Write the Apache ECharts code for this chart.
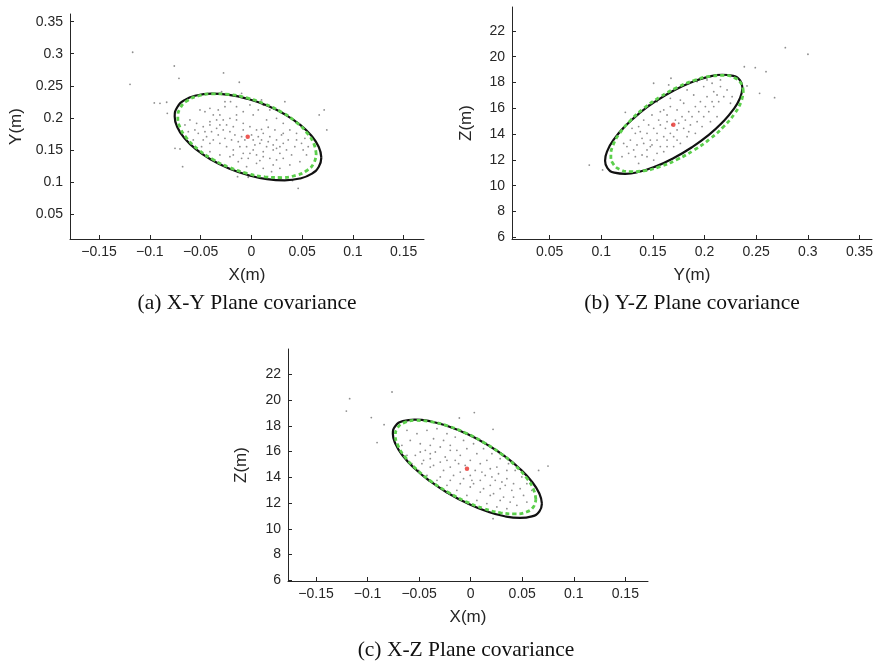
<!DOCTYPE html>
<html><head><meta charset="utf-8">
<script src="https://cdn.jsdelivr.net/npm/echarts@6/dist/echarts.min.js"></script>
<style>html,body{margin:0;padding:0;background:#fff}#c{width:877px;height:661px}</style>
</head><body><div id="c"></div>
<script>
// ---------- tick labels ----------
const xTicksXY = [-0.15, -0.1, -0.05, 0, 0.05, 0.1, 0.15];
const yTicksXY = [0.05, 0.1, 0.15, 0.2, 0.25, 0.3, 0.35];
const yTicksYZ = [0.05, 0.1, 0.15, 0.2, 0.25, 0.3, 0.35];
const zTicksYZ = [6, 8, 10, 12, 14, 16, 18, 20, 22];
const xTicksXZ = [-0.15, -0.1, -0.05, 0, 0.05, 0.1, 0.15];
const zTicksXZ = [6, 8, 10, 12, 14, 16, 18, 20, 22];

// ---------- axis ranges ----------
const rangeXY = { x: [-0.1786, 0.170], y: [0.011, 0.362] };
const rangeYZ = { x: [0.0136, 0.3621], y: [5.87, 23.85] };
const rangeXZ = { x: [-0.1772, 0.1720], y: [5.95, 23.97] };

// ---------- (a) X-Y plane ----------
const meanXY = [[-0.0036, 0.1706]];
const ellipseXY = [[0.0689,0.1380],[0.0664,0.1544],[0.0592,0.1720],[0.0478,0.1894],[0.0328,0.2055],[0.0154,0.2192],[-0.0033,0.2295],[-0.0220,0.2358],[-0.0394,0.2377],[-0.0544,0.2349],[-0.0658,0.2277],[-0.0730,0.2165],[-0.0755,0.2022],[-0.0730,0.1858],[-0.0658,0.1682],[-0.0544,0.1508],[-0.0394,0.1347],[-0.0220,0.1210],[-0.0033,0.1107],[0.0154,0.1044],[0.0328,0.1025],[0.0478,0.1053],[0.0592,0.1125],[0.0664,0.1237]];
const ellipseXYgreen = [[0.0638,0.1435],[0.0615,0.1597],[0.0547,0.1767],[0.0439,0.1935],[0.0298,0.2088],[0.0133,0.2216],[-0.0043,0.2310],[-0.0219,0.2364],[-0.0384,0.2375],[-0.0525,0.2341],[-0.0633,0.2265],[-0.0701,0.2151],[-0.0724,0.2009],[-0.0701,0.1847],[-0.0633,0.1677],[-0.0525,0.1509],[-0.0384,0.1356],[-0.0219,0.1228],[-0.0043,0.1134],[0.0133,0.1080],[0.0298,0.1069],[0.0439,0.1103],[0.0547,0.1179],[0.0615,0.1293]];
const samplesXY = [[-0.1169,0.3023],[-0.0759,0.2809],[-0.0713,0.2617],[-0.0274,0.2700],[-0.0119,0.2555],[-0.1195,0.2523],[-0.0956,0.2232],[-0.0900,0.2227],[-0.0834,0.2243],[-0.0828,0.2071],[0.0330,0.2253],[0.0717,0.2123],[0.0668,0.2045],[0.0743,0.1811],[-0.0752,0.1525],[-0.0703,0.1515],[-0.0677,0.1239],[-0.0136,0.1083],[-0.0031,0.1073],[0.0405,0.1021],[0.0461,0.0901],[-0.0096,0.2383],[0.0100,0.2279],[0.0123,0.2201],[-0.0293,0.2409],[-0.0211,0.2357],
[-0.0506,0.2123],[-0.0457,0.2097],[-0.0408,0.2149],[-0.0326,0.2123],[-0.0260,0.2175],[-0.0205,0.2253],[-0.0146,0.2175],[-0.0080,0.2097],[0.0018,0.2045],[0.0068,0.2123],[0.0117,0.2201],[0.0182,0.2123],[0.0248,0.1993],[0.0314,0.1915],[0.0379,0.1811],[0.0445,0.1655],[0.0510,0.1499],[0.0543,0.1421],[0.0478,0.1317],[0.0379,0.1265],[0.0281,0.1213],[0.0199,0.1161],[0.0117,0.1213],[0.0051,0.1291],[-0.0047,0.1239],[-0.0129,0.1317],[-0.0211,0.1395],[-0.0310,0.1421],[-0.0408,0.1473],[-0.0490,0.1551],[-0.0572,0.1655],[-0.0621,0.1785],[-0.0654,0.1889],[-0.0605,0.1967],[-0.0539,0.1915],[-0.0474,0.1863],[-0.0408,0.1889],[-0.0342,0.1837],[-0.0277,0.1811],[-0.0211,0.1785],[-0.0162,0.1733],[-0.0096,0.1707],[0.0018,0.1655],[0.0084,0.1603],[0.0150,0.1551],[0.0215,0.1499],[0.0281,0.1447],[0.0346,0.1499],[0.0314,0.1603],[0.0248,0.1655],[0.0182,0.1707],[0.0117,0.1759],[0.0051,0.1811],[-0.0014,0.1863],[-0.0080,0.1915],[-0.0146,0.1967],[-0.0211,0.1993],[-0.0277,0.1967],[-0.0342,0.1967],[-0.0408,0.1941],[-0.0441,0.1707],[-0.0375,0.1655],[-0.0310,0.1603],[-0.0244,0.1551],[-0.0178,0.1499],[-0.0113,0.1551],[-0.0047,0.1551],[-0.0014,0.1447],[0.0051,0.1421],[0.0117,0.1395],[0.0182,0.1369],[0.0248,0.1343],[0.0314,0.1369],[0.0396,0.1421],[0.0428,0.1551],[0.0363,0.1655],[0.0297,0.1733],[0.0232,0.1811],[0.0166,0.1853],[0.0100,0.1821],[0.0068,0.1707],[0.0002,0.1733],[-0.0064,0.1655],[-0.0129,0.1629],[-0.0195,0.1655],[-0.0260,0.1681],[-0.0326,0.1733],[-0.0392,0.1785],[-0.0457,0.1785],[-0.0523,0.1759],[-0.0556,0.1811],[-0.0260,0.2253],[-0.0014,0.2201],[-0.0146,0.2045],[0.0150,0.1967],[0.0314,0.1759],[0.0248,0.1525],[0.0117,0.1473],[0.0018,0.1499],[-0.0080,0.1447],[-0.0178,0.1421],[-0.0408,0.1603],[-0.0474,0.1655],[-0.0375,0.2045],[-0.0310,0.2045],[0.0445,0.1759],[0.0494,0.1603],[0.0560,0.1551],[0.0527,0.1681],[0.0215,0.1265],[0.0084,0.1333],[-0.0031,0.1369],[-0.0096,0.1369],[0.0035,0.1577],[0.0100,0.1655],[0.0166,0.1629],[0.0215,0.1577],[0.0281,0.1551],[-0.0080,0.1811],[-0.0178,0.1863],[-0.0244,0.1889],[-0.0310,0.1889]];

// ---------- (b) Y-Z plane ----------
const meanYZ = [[0.1698, 14.73]];
const ellipseYZ = [[0.2367,17.58],[0.2344,18.16],[0.2278,18.51],[0.2172,18.60],[0.2035,18.44],[0.1874,18.02],[0.1702,17.38],[0.1530,16.56],[0.1369,15.62],[0.1232,14.62],[0.1126,13.63],[0.1060,12.72],[0.1037,11.94],[0.1060,11.36],[0.1126,11.01],[0.1232,10.92],[0.1369,11.08],[0.1530,11.50],[0.1702,12.14],[0.1874,12.96],[0.2035,13.90],[0.2172,14.90],[0.2278,15.89],[0.2344,16.80]];
const ellipseYZgreen = [[0.2375,17.30],[0.2353,17.94],[0.2289,18.37],[0.2187,18.55],[0.2055,18.48],[0.1900,18.16],[0.1734,17.61],[0.1568,16.87],[0.1413,16.00],[0.1281,15.04],[0.1179,14.07],[0.1115,13.15],[0.1093,12.34],[0.1115,11.70],[0.1179,11.27],[0.1281,11.09],[0.1413,11.16],[0.1568,11.48],[0.1734,12.03],[0.1900,12.77],[0.2055,13.64],[0.2187,14.60],[0.2289,15.57],[0.2353,16.49]];
const samplesYZ = [[0.2782,20.70],[0.3001,20.19],[0.2385,19.22],[0.2491,19.15],[0.2595,18.84],[0.2411,17.73],[0.2533,17.16],[0.2678,16.82],[0.0884,11.60],[0.1013,11.22],[0.1233,15.69],[0.1507,17.94],[0.1675,18.33],[0.1653,17.81],
[0.1831,17.42],[0.1895,17.03],[0.1766,16.64],[0.1669,16.13],[0.1572,15.74],[0.1491,15.48],[0.1411,15.09],[0.1362,14.58],[0.1330,14.06],[0.1282,13.54],[0.1249,13.03],[0.1265,12.51],[0.1330,12.25],[0.1395,12.38],[0.1443,12.77],[0.1491,13.16],[0.1540,13.54],[0.1605,13.80],[0.1669,14.06],[0.1734,14.32],[0.1798,14.45],[0.1863,14.71],[0.1928,14.96],[0.1992,15.35],[0.2041,15.74],[0.2089,16.13],[0.2137,16.51],[0.2186,16.90],[0.2218,17.42],[0.2154,17.68],[0.2089,17.29],[0.2024,16.90],[0.1960,16.51],[0.1911,16.13],[0.1847,15.74],[0.1782,15.35],[0.1718,15.09],[0.1637,14.96],[0.1572,14.71],[0.1508,14.45],[0.1443,14.06],[0.1395,13.67],[0.1346,13.16],[0.1475,13.54],[0.1540,14.06],[0.1621,14.45],[0.1685,14.71],[0.1750,14.84],[0.1814,15.09],[0.1879,15.35],[0.1944,15.74],[0.2008,16.13],[0.2073,16.51],[0.2121,17.03],[0.2154,18.20],[0.2073,17.94],[0.1992,17.68],[0.1928,18.07],[0.1798,16.39],[0.1734,15.87],[0.1637,15.48],[0.1556,15.09],[0.1459,14.71],[0.1378,14.19],[0.1314,12.77],[0.1443,12.25],[0.1540,12.51],[0.1637,13.03],[0.1734,13.54],[0.1831,13.80],[0.1911,14.06],[0.1976,14.58],[0.2057,14.96],[0.2121,15.35],[0.2251,16.39],[0.2267,16.90],[0.2024,18.20],[0.1605,15.87],[0.1669,16.77],[0.1540,16.51],[0.1378,15.74],[0.1459,16.26],[0.1298,14.45],[0.1217,13.28],[0.1201,12.25],[0.1362,11.73],[0.1508,11.99],[0.1605,12.64],[0.1701,13.03],[0.1766,13.28],[0.1847,14.19],[0.1572,13.03],[0.1475,13.03],[0.1411,13.28],[0.1637,13.54],[0.1701,13.80]];

// ---------- (c) X-Z plane ----------
const meanXZ = [[-0.0036, 14.67]];
const ellipseXZ = [[0.0691,11.96],[0.0666,12.74],[0.0594,13.66],[0.0479,14.65],[0.0330,15.64],[0.0155,16.56],[-0.0032,17.36],[-0.0219,17.97],[-0.0394,18.36],[-0.0543,18.49],[-0.0658,18.37],[-0.0730,17.99],[-0.0755,17.38],[-0.0730,16.60],[-0.0658,15.68],[-0.0543,14.69],[-0.0394,13.70],[-0.0219,12.78],[-0.0032,11.98],[0.0155,11.37],[0.0330,10.98],[0.0479,10.85],[0.0594,10.97],[0.0666,11.35]];
const ellipseXZgreen = [[0.0632,12.31],[0.0609,13.08],[0.0541,13.97],[0.0433,14.91],[0.0292,15.85],[0.0127,16.71],[-0.0049,17.45],[-0.0225,18.00],[-0.0390,18.33],[-0.0531,18.42],[-0.0639,18.27],[-0.0707,17.87],[-0.0730,17.27],[-0.0707,16.50],[-0.0639,15.61],[-0.0531,14.67],[-0.0390,13.73],[-0.0225,12.87],[-0.0049,12.13],[0.0127,11.58],[0.0292,11.25],[0.0433,11.16],[0.0541,11.31],[0.0609,11.71]];
const samplesXZ = [[-0.1174,20.11],[-0.0763,20.63],[-0.1206,19.15],[-0.0964,18.64],[-0.0908,16.70],[-0.0840,18.09],[-0.0110,18.61],[0.0217,17.73],[0.0035,19.03],[0.0750,14.88],[0.0659,14.54],[0.0217,10.79],
[-0.0618,17.65],[-0.0521,17.39],[-0.0424,17.65],[-0.0327,17.78],[-0.0230,17.39],[-0.0150,17.13],[-0.0069,16.87],[0.0028,16.61],[0.0125,16.23],[0.0206,15.84],[0.0286,15.45],[0.0367,15.06],[0.0432,14.54],[0.0496,14.03],[0.0545,13.51],[0.0593,12.99],[0.0626,12.47],[0.0545,12.08],[0.0448,11.83],[0.0351,11.57],[0.0254,11.70],[0.0157,11.96],[0.0060,12.21],[-0.0037,12.60],[-0.0134,12.99],[-0.0230,13.38],[-0.0327,13.77],[-0.0424,14.15],[-0.0505,14.54],[-0.0570,15.06],[-0.0618,15.71],[-0.0667,16.49],[-0.0586,16.87],[-0.0489,16.61],[-0.0392,16.49],[-0.0295,16.36],[-0.0198,16.10],[-0.0101,15.71],[-0.0004,15.32],[0.0093,15.06],[0.0190,14.67],[0.0270,14.28],[0.0351,13.90],[0.0416,13.51],[0.0480,13.12],[0.0513,12.60],[0.0416,12.47],[0.0319,12.47],[0.0222,12.73],[0.0125,13.12],[0.0028,13.51],[-0.0069,13.90],[-0.0166,14.15],[-0.0263,14.54],[-0.0360,14.93],[-0.0457,15.32],[-0.0537,15.71],[-0.0440,16.10],[-0.0343,15.97],[-0.0247,15.58],[-0.0150,15.32],[-0.0053,14.93],[0.0044,14.54],[0.0141,14.15],[0.0238,13.77],[0.0335,13.38],[0.0399,12.99],[0.0286,13.12],[0.0190,13.38],[0.0093,13.77],[-0.0004,14.15],[-0.0101,14.41],[-0.0198,14.80],[-0.0295,15.19],[-0.0392,15.45],[-0.0489,15.97],[-0.0198,16.49],[-0.0134,16.10],[-0.0360,17.00],[-0.0263,16.87],[-0.0392,15.84],[-0.0295,14.03],[-0.0198,13.77],[-0.0101,13.51],[-0.0004,13.25],[0.0093,12.86],[0.0190,12.60],[0.0286,12.21],[0.0383,12.08],[0.0254,14.80],[0.0351,14.54],[0.0157,15.32],[0.0060,15.84],[-0.0037,16.23],[0.0012,13.77],[0.0109,14.41],[0.0206,14.03],[0.0303,13.64],[-0.0117,15.06],[-0.0230,15.32],[-0.0392,14.80],[-0.0473,15.06]];

// ---------- texts ----------
const captions = ['(a) X-Y Plane covariance', '(b) Y-Z Plane covariance', '(c) X-Z Plane covariance'];
const xNames = ['X(m)', 'Y(m)', 'X(m)'];
const yNames = ['Y(m)', 'Z(m)', 'Z(m)'];

// ---------- layout / style ----------
const AX = '#262626';
const grids = [
  { left: 70, top: 14, width: 354, height: 225 },
  { left: 512, top: 7, width: 360, height: 232 },
  { left: 288, top: 349, width: 360, height: 232 }
];
const yNameGaps = [45, 37, 38];
const captionPos = [[247, 303], [692, 303], [466, 650]];

function fmt(v) {
  if (Math.abs(v) < 1e-9) return '0';
  return String(parseFloat(v.toFixed(2))).replace('-', '\u2212');
}
function mkX(i, range, ticks) {
  return {
    type: 'value', gridIndex: i, min: range[0], max: range[1],
    name: xNames[i], nameLocation: 'middle', nameGap: 28,
    nameTextStyle: { fontFamily: 'Liberation Sans', fontSize: 17, color: AX },
    axisLine: { show: true, onZero: false, lineStyle: { color: AX, width: 1 } },
    axisTick: { show: true, inside: true, length: 4, customValues: ticks, lineStyle: { color: AX } },
    axisLabel: { customValues: ticks, formatter: fmt, margin: 6, fontFamily: 'Liberation Sans', fontSize: 14, color: AX },
    splitLine: { show: false }
  };
}
function mkY(i, range, ticks) {
  return {
    type: 'value', gridIndex: i, min: range[0], max: range[1],
    name: yNames[i], nameLocation: 'middle', nameGap: yNameGaps[i], nameRotate: 90,
    nameTextStyle: { fontFamily: 'Liberation Sans', fontSize: 17, color: AX },
    axisLine: { show: true, onZero: false, lineStyle: { color: AX, width: 1 } },
    axisTick: { show: true, inside: true, length: 4, customValues: ticks, lineStyle: { color: AX } },
    axisLabel: { customValues: ticks, formatter: fmt, margin: 7, fontFamily: 'Liberation Sans', fontSize: 14, color: AX },
    splitLine: { show: false }
  };
}
function closed(pts) { return pts.concat([pts[0]]); }
function panelSeries(i, samples, ell, ellG, mean) {
  return [
    { type: 'scatter', xAxisIndex: i, yAxisIndex: i, data: samples, symbol: 'circle', symbolSize: 1.8,
      itemStyle: { color: '#7a7a7a', opacity: 0.85 }, z: 2, silent: true },
    { type: 'line', xAxisIndex: i, yAxisIndex: i, data: closed(ell), smooth: 0.5, showSymbol: false,
      lineStyle: { color: '#111111', width: 2.2 }, z: 3, silent: true },
    { type: 'line', xAxisIndex: i, yAxisIndex: i, data: closed(ellG), smooth: 0.5, showSymbol: false,
      lineStyle: { color: '#5ccf4c', width: 2.8, type: [4, 3] }, z: 4, silent: true },
    { type: 'scatter', xAxisIndex: i, yAxisIndex: i, data: mean, symbol: 'circle', symbolSize: 4.5,
      itemStyle: { color: '#e8302a' }, z: 5, silent: true }
  ];
}

const chart = echarts.init(document.getElementById('c'), null, { renderer: 'canvas' });
chart.setOption({
  animation: false,
  backgroundColor: '#ffffff',
  grid: grids.map(g => Object.assign({ containLabel: false, outerBoundsMode: 'none' }, g)),
  xAxis: [mkX(0, rangeXY.x, xTicksXY), mkX(1, rangeYZ.x, yTicksYZ), mkX(2, rangeXZ.x, xTicksXZ)],
  yAxis: [mkY(0, rangeXY.y, yTicksXY), mkY(1, rangeYZ.y, zTicksYZ), mkY(2, rangeXZ.y, zTicksXZ)],
  series: [].concat(
    panelSeries(0, samplesXY, ellipseXY, ellipseXYgreen, meanXY),
    panelSeries(1, samplesYZ, ellipseYZ, ellipseYZgreen, meanYZ),
    panelSeries(2, samplesXZ, ellipseXZ, ellipseXZgreen, meanXZ)
  ),
  graphic: captions.map((t, i) => ({
    type: 'text', x: captionPos[i][0], y: captionPos[i][1], silent: true,
    style: { text: t, fontFamily: 'Liberation Serif', fontSize: 21.5, fill: '#111111', align: 'center', verticalAlign: 'middle' }
  }))
});
</script>
</body></html>
